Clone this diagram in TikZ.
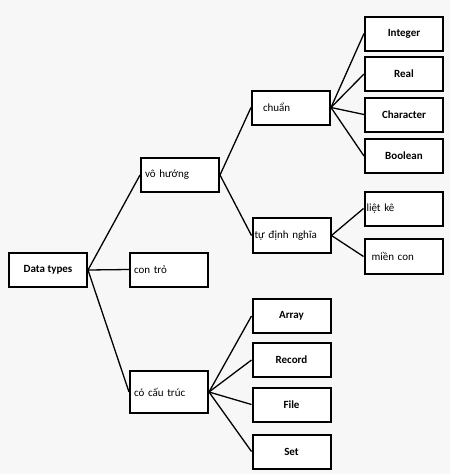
\documentclass[tikz,border=0pt]{standalone}
\usepackage{fontspec}
\setmainfont{Carlito}
\begin{document}
\begin{tikzpicture}[x=1pt,y=-1pt,
  every node/.style={font=\fontsize{11}{13}\selectfont},
  box/.style={draw, line width=2pt, fill=white, minimum width=78pt, minimum height=34pt, inner sep=0pt},
  keybox/.style={box, font=\fontsize{11}{13}\selectfont\bfseries},
  namebox/.style={box, text width=70pt, align=left},
  link/.style={line width=1.3pt}]
\fill[black!3] (0,0) rectangle (450,474);
\useasboundingbox (0,0) rectangle (450,474);

\node[keybox] (dt) at (48,270) {Data types};

\node[namebox] (vh) at (180,175) {vô hướng};
\node[namebox] (ct) at (169,269.5) {con trỏ};
\node[namebox, minimum height=42pt] (cc) at (169,392) {có cấu trúc};

\node[namebox] (chuan) at (291,107.5) {\hspace*{7pt}chuẩn};
\node[namebox, text width=74pt, minimum height=35pt] (tdn) at (291.5,235.5) {tự định nghĩa};

\node[keybox] (int) at (404,33.5) {Integer};
\node[keybox] (real) at (404,74) {Real};
\node[keybox] (char) at (404,114.5) {Character};
\node[keybox] (bool) at (404,156) {Boolean};

\node[namebox, text width=74pt] (lk) at (403.5,208.5) {liệt kê};
\node[namebox, minimum height=35pt] (mc) at (403.5,256.5) {\hspace*{3pt}miền con};

\node[keybox] (arr) at (291.5,316) {Array};
\node[keybox] (rec) at (291.5,360) {Record};
\node[keybox] (file) at (291.5,404.5) {File};
\node[keybox] (set) at (291.5,451.5) {Set};

\draw[link] (dt.east) -- (vh.west);
\draw[link] (dt.east) -- (ct.west);
\draw[link] (dt.east) -- (cc.west);

\draw[link] (vh.east) -- (chuan.west);
\draw[link] (vh.east) -- (tdn.west);

\foreach \t in {int,real,char,bool}
  \draw[link] (chuan.east) -- (\t.west);
\foreach \t in {lk,mc}
  \draw[link] (tdn.east) -- (\t.west);
\foreach \t in {arr,rec,file,set}
  \draw[link] (cc.east) -- (\t.west);
\end{tikzpicture}
\end{document}
